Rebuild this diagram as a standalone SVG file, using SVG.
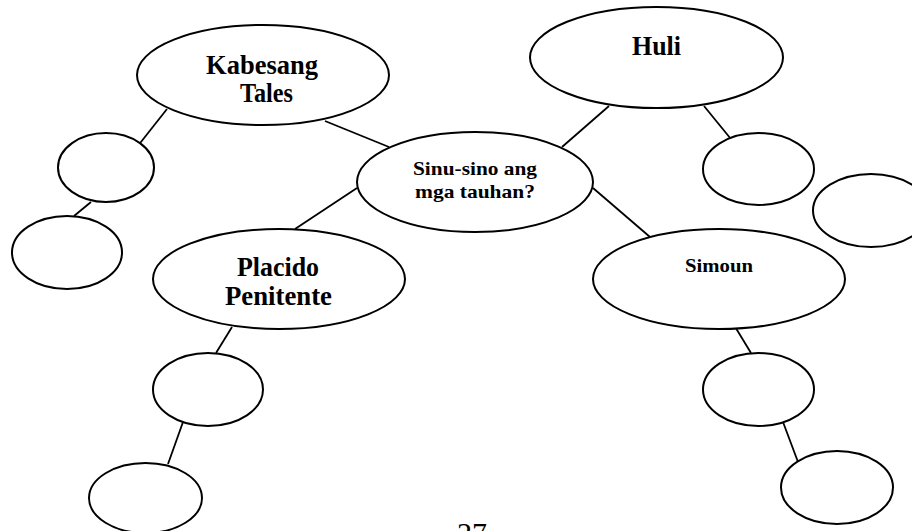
<svg xmlns="http://www.w3.org/2000/svg" width="912" height="531" viewBox="0 0 912 531">
<style>
.n{fill:#fff;stroke:#000;stroke-width:2}
.c line{stroke:#000;stroke-width:1.8}
.t{font-family:"Liberation Serif","Times New Roman",serif;font-weight:bold;fill:#000;text-anchor:middle}
.b{font-size:28px}
.s{font-size:19px}
.p{font-family:"Liberation Serif","Times New Roman",serif;font-size:30px;fill:#000}
</style>
<rect width="912" height="531" fill="#fff"/>
<g id="connectors" class="c">
<line x1="167" y1="109" x2="137" y2="147"/>
<line x1="91" y1="202" x2="74" y2="216"/>
<line x1="325" y1="121" x2="389" y2="147"/>
<line x1="357" y1="188" x2="295" y2="229"/>
<line x1="232" y1="327" x2="216" y2="353"/>
<line x1="183" y1="422" x2="168" y2="464"/>
<line x1="609" y1="106" x2="562" y2="147"/>
<line x1="704" y1="106" x2="735" y2="144"/>
<line x1="593" y1="188" x2="650" y2="237"/>
<line x1="734" y1="325" x2="751" y2="353"/>
<line x1="783" y1="422" x2="798" y2="462"/>
</g>
<g id="kabesang">
<ellipse class="n" cx="263" cy="75" rx="126" ry="50"/>
<text class="t b" x="262" y="74" textLength="112" lengthAdjust="spacingAndGlyphs">Kabesang</text>
<text class="t b" x="266.5" y="102" textLength="53" lengthAdjust="spacingAndGlyphs">Tales</text>
</g>
<g id="k1"><ellipse class="n" cx="106" cy="167.5" rx="48" ry="34.5"/></g>
<g id="k2"><ellipse class="n" cx="67" cy="252.5" rx="55" ry="36.5"/></g>
<g id="center">
<ellipse class="n" cx="475" cy="182" rx="118" ry="50"/>
<text class="t s" x="475" y="175" textLength="124" lengthAdjust="spacingAndGlyphs">Sinu-sino ang</text>
<text class="t s" x="475" y="198" textLength="120" lengthAdjust="spacingAndGlyphs">mga tauhan?</text>
</g>
<g id="placido">
<ellipse class="n" cx="279" cy="279" rx="126" ry="50"/>
<text class="t b" x="278" y="276" textLength="82" lengthAdjust="spacingAndGlyphs">Placido</text>
<text class="t b" x="278.5" y="305" textLength="107" lengthAdjust="spacingAndGlyphs">Penitente</text>
</g>
<g id="p1"><ellipse class="n" cx="208" cy="389.5" rx="55" ry="36.5"/></g>
<g id="p2"><ellipse class="n" cx="145.5" cy="498" rx="56.5" ry="35"/></g>
<g id="huli">
<ellipse class="n" cx="656.5" cy="57.5" rx="126.5" ry="50.5"/>
<text class="t b" x="656.5" y="55" textLength="49" lengthAdjust="spacingAndGlyphs">Huli</text>
</g>
<g id="h1"><ellipse class="n" cx="758.5" cy="169" rx="55.5" ry="36"/></g>
<g id="h2"><ellipse class="n" cx="871" cy="210.5" rx="58" ry="36.5"/></g>
<g id="simoun">
<ellipse class="n" cx="719" cy="279" rx="126" ry="50"/>
<text class="t s" x="719" y="272" font-size="20" textLength="68" lengthAdjust="spacingAndGlyphs">Simoun</text>
</g>
<g id="s1"><ellipse class="n" cx="758.5" cy="389.5" rx="55.5" ry="36.5"/></g>
<g id="s2"><ellipse class="n" cx="837" cy="487.5" rx="56" ry="36.5"/></g>
<text class="p" x="457" y="543">27</text>
</svg>
